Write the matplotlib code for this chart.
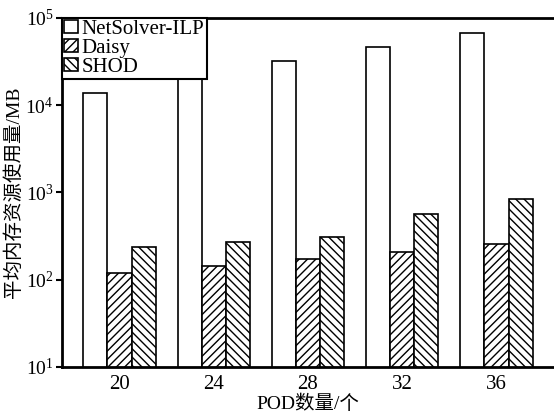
import numpy as np
import matplotlib
matplotlib.use('Agg')
import matplotlib.pyplot as plt
from matplotlib.ticker import LogLocator, NullLocator

# Data
pods = ['20', '24', '28', '32', '36']
netsolver_ilp = [13700, 20000, 32100, 46900, 67300]
daisy = [120, 144, 171, 210, 257]
shod = [239, 271, 306, 562, 843]

plt.rcParams['font.family'] = ['Liberation Serif', 'Noto Sans CJK SC']
plt.rcParams['mathtext.fontset'] = 'stix'
plt.rcParams['hatch.linewidth'] = 1.0

fig = plt.figure(figsize=(5.54, 4.15), dpi=100)
ax = fig.add_axes([0.1119, 0.1157, 0.8881, 0.841])

x = np.arange(len(pods))
w = 0.255
ax.bar(x - w, netsolver_ilp, w, facecolor='white', edgecolor='black',
       linewidth=1.2, label='NetSolver-ILP')
ax.bar(x, daisy, w, facecolor='white', edgecolor='black', hatch='////',
       linewidth=1.2, label='Daisy')
ax.bar(x + w, shod, w, facecolor='white', edgecolor='black', hatch='\\\\\\\\',
       linewidth=1.2, label='SHOD')

ax.set_yscale('log')
ax.set_ylim(10, 1e5)
ax.set_xlim(-0.61, 4.61)
ax.yaxis.set_major_locator(LogLocator(base=10, numticks=10))
ax.yaxis.set_minor_locator(NullLocator())

ax.set_xticks(x)
ax.set_xticklabels(pods)
ax.tick_params(axis='x', length=0, pad=6, labelsize=15)
ax.tick_params(axis='y', direction='out', length=4, width=1.5, pad=2, labelsize=14)

for s in ['left', 'bottom', 'top']:
    ax.spines[s].set_linewidth(2)
ax.spines['right'].set_visible(False)

ax.set_xlabel('POD数量/个', fontsize=14, labelpad=0)
ax.set_ylabel('平均内存资源使用量/MB', fontsize=14, labelpad=2)

leg = ax.legend(loc='upper left', fontsize=15, frameon=True, fancybox=False,
                borderaxespad=0, borderpad=0.1, labelspacing=0.0,
                handlelength=0.65, handleheight=0.55, handletextpad=0.2)
leg.get_frame().set_edgecolor('black')
leg.get_frame().set_linewidth(1.5)
leg.get_frame().set_alpha(1)

fig.savefig('out.png', dpi=100)
